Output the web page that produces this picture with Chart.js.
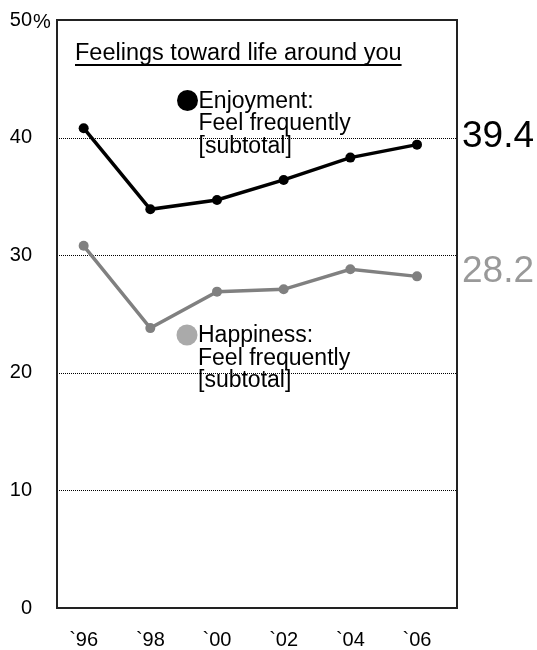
<!DOCTYPE html>
<html>
<head>
<meta charset="utf-8">
<script src="https://cdn.jsdelivr.net/npm/chart.js@4/dist/chart.umd.min.js"></script>
<style>
  html, body { margin: 0; padding: 0; background: #fff; }
  #wrap { position: relative; width: 537px; height: 650px; }
</style>
</head>
<body>
<div id="wrap"><canvas id="c" width="537" height="650"></canvas></div>
<script>
// Survey years and their axis labels
const years = [1996, 1998, 2000, 2002, 2004, 2006];
const yearLabels = ['`96', '`98', '`00', '`02', '`04', '`06'];
// Share answering "feel frequently" (subtotal), %
const enjoyment = [40.8, 33.9, 34.7, 36.4, 38.3, 39.4];
const happiness = [30.8, 23.8, 26.9, 27.1, 28.8, 28.2];
const yTicks = [0, 10, 20, 30, 40, 50];

const FONT = 'Liberation Sans, Arial, sans-serif';

const toPoints = vals => vals.map((v, i) => ({ x: years[i], y: v }));

// Draws the title, the inline series keys, the end-value labels and the "%" unit
const overlay = {
  id: 'overlay',
  afterDraw(chart) {
    const { ctx, scales: { y }, chartArea } = chart;
    ctx.save();
    ctx.textBaseline = 'alphabetic';
    ctx.textAlign = 'left';

    // title with underline
    ctx.fillStyle = '#000';
    ctx.font = `23.5px ${FONT}`;
    const title = 'Feelings toward life around you';
    const tx = 75, ty = 60;
    ctx.fillText(title, tx, ty);
    const tw = ctx.measureText(title).width;
    ctx.fillRect(tx, ty + 4, tw, 2);

    // percent unit after the top tick
    ctx.font = `20px ${FONT}`;
    ctx.textBaseline = 'middle';
    ctx.fillText('%', 33, y.getPixelForValue(50) + 2);

    // inline series keys
    const key = (cx, cy, color, lines) => {
      ctx.beginPath();
      ctx.arc(cx, cy, 10.5, 0, Math.PI * 2);
      ctx.fillStyle = color;
      ctx.fill();
      ctx.fillStyle = '#000';
      ctx.font = `23px ${FONT}`;
      ctx.textBaseline = 'middle';
      lines.forEach((t, i) => ctx.fillText(t, cx + 11, cy + 1 + i * 22.5));
    };
    key(187.5, 100.5, '#000', ['Enjoyment:', 'Feel frequently', '[subtotal]']);
    key(187, 335, '#aaaaaa', ['Happiness:', 'Feel frequently', '[subtotal]']);

    // end values right of the frame
    ctx.font = `37px ${FONT}`;
    ctx.textBaseline = 'middle';
    const last = enjoyment.length - 1;
    ctx.fillStyle = '#000';
    ctx.fillText(enjoyment[last].toFixed(1), chartArea.right + 5, 137);
    ctx.fillStyle = '#999999';
    ctx.fillText(happiness[last].toFixed(1), chartArea.right + 5, 272);
    ctx.restore();
  }
};

// Dotted interior gridlines and solid frame
const frame = {
  id: 'frame',
  beforeDatasetsDraw(chart) {
    const { ctx, scales: { y }, chartArea: a } = chart;
    ctx.save();
    ctx.strokeStyle = '#000';
    ctx.lineWidth = 1;
    ctx.setLineDash([1, 1]);
    yTicks.filter(v => v > 0 && v < 50).forEach(v => {
      const py = Math.round(y.getPixelForValue(v)) + 0.5;
      ctx.beginPath();
      ctx.moveTo(a.left, py);
      ctx.lineTo(a.right, py);
      ctx.stroke();
    });
    ctx.setLineDash([]);
    ctx.lineWidth = 2;
    ctx.strokeStyle = '#222';
    ctx.strokeRect(a.left, a.top, a.right - a.left, a.bottom - a.top);
    ctx.restore();
  }
};

const noPad = s => {
  s.paddingTop = 0; s.paddingBottom = 0;
  s.paddingLeft = 0; s.paddingRight = 0;
};

new Chart(document.getElementById('c'), {
  type: 'line',
  data: {
    datasets: [
      {
        label: 'Enjoyment: Feel frequently [subtotal]',
        data: toPoints(enjoyment),
        borderColor: '#000',
        backgroundColor: '#000',
        borderWidth: 3.5,
        pointRadius: 5,
        pointBackgroundColor: '#000',
        pointBorderWidth: 0,
        tension: 0
      },
      {
        label: 'Happiness: Feel frequently [subtotal]',
        data: toPoints(happiness),
        borderColor: '#808080',
        backgroundColor: '#808080',
        borderWidth: 3.5,
        pointRadius: 5,
        pointBackgroundColor: '#808080',
        pointBorderWidth: 0,
        tension: 0
      }
    ]
  },
  options: {
    responsive: false,
    animation: false,
    layout: { padding: { top: 20, right: 80, bottom: 0, left: 0 } },
    plugins: { legend: { display: false }, tooltip: { enabled: false } },
    scales: {
      x: {
        type: 'linear',
        min: 1995.2,
        max: 2007.2,
        afterBuildTicks: s => { s.ticks = years.map(v => ({ value: v })); },
        afterFit: s => { s.height = 42; noPad(s); },
        ticks: {
          callback: v => yearLabels[years.indexOf(v)],
          color: '#000',
          font: { family: FONT, size: 20 },
          padding: 20,
          maxRotation: 0,
          autoSkip: false
        },
        grid: { display: false, drawTicks: false },
        border: { display: false }
      },
      y: {
        min: 0,
        max: 50,
        afterBuildTicks: s => { s.ticks = yTicks.map(v => ({ value: v })); },
        afterFit: s => { s.width = 57; noPad(s); },
        ticks: {
          color: '#000',
          font: { family: FONT, size: 20 },
          padding: 25
        },
        grid: { display: false, drawTicks: false },
        border: { display: false }
      }
    }
  },
  plugins: [frame, overlay]
});
</script>
</body>
</html>
